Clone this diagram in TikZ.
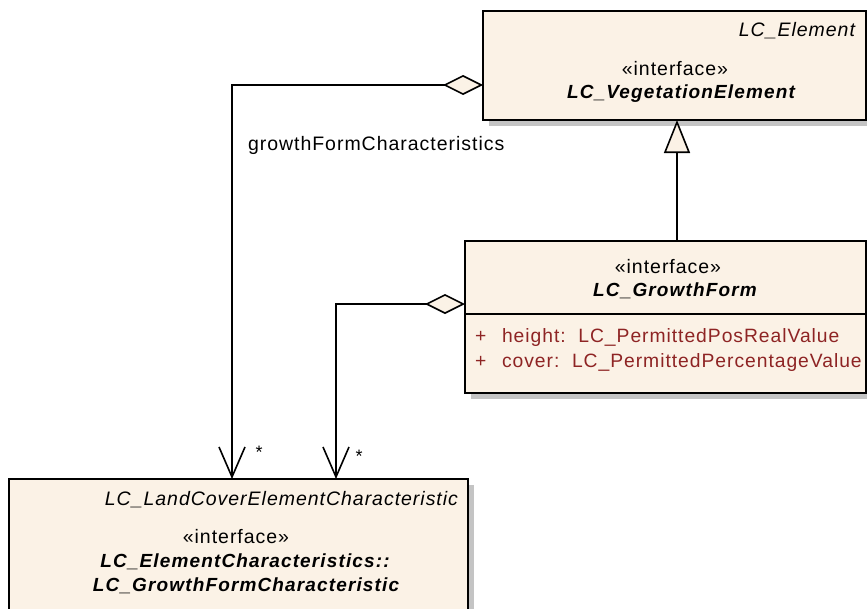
\documentclass[tikz,border=0pt]{standalone}
\usepackage{fontspec}
\setmainfont{Liberation Sans}
\newfontfamily\umlfont[LetterSpace=5]{Liberation Sans}
\newfontfamily\umlbold[LetterSpace=6]{Liberation Sans}
\usetikzlibrary{arrows.meta,backgrounds,calc}
\definecolor{boxfill}{HTML}{FBF2E6}
\definecolor{attrred}{HTML}{8E2424}
\definecolor{shadowgray}{HTML}{C4C4C4}
\begin{document}
\begin{tikzpicture}[x=1pt,y=-1pt,
  umlbox/.style={draw=black, fill=boxfill, line width=1.8pt, inner sep=0pt, outer sep=0pt},
  txt/.style={inner sep=0pt, outer sep=0pt, font=\umlfont\fontsize{19.5}{22}\selectfont},
  btxt/.style={inner sep=0pt, outer sep=0pt, font=\umlbold\fontsize{19}{22}\selectfont\bfseries\itshape},
  attr/.style={txt, text=attrred, font=\umlfont\fontsize{19.3}{22}\selectfont},
  assoc/.style={draw=black, line width=1.6pt, {Diamond[length=40pt,width=20pt,fill=boxfill]}-{Straight Barb[length=30pt,width=26pt]}},
  genline/.style={draw=black, line width=1.6pt, -{Triangle[length=33pt,width=26pt,fill=boxfill]}},
  shadowbox/.style={fill=shadowgray},
  mult/.style={inner sep=0pt, outer sep=0pt, font=\umlfont\fontsize{18}{18}\selectfont}
]
\useasboundingbox (0,0) rectangle (867,608);

% boxes
\node[umlbox, minimum width=383pt, minimum height=109pt] (top) at (674.5,65.5) {};
\node[umlbox, minimum width=401pt, minimum height=152pt] (gf) at (665.5,317) {};
\node[umlbox, minimum width=459pt, minimum height=141pt] (bot) at (238.5,549.5) {};

\begin{scope}[on background layer]
  \fill[shadowbox] ($(top.south west)+(6,6)$) rectangle ($(top.north east)+(6,6)$);
  \fill[shadowbox] ($(gf.south west)+(6,6)$) rectangle ($(gf.north east)+(6,6)$);
  \fill[shadowbox] ($(bot.south west)+(6,6)$) rectangle ($(bot.north east)+(6,6)$);
\end{scope}

\draw[line width=1.6pt] (gf.west |- 0,314) coordinate (sepl) -- (gf.east |- 0,314) coordinate (sepr);

% top box texts
\node[txt, anchor=base east] (topst) at (855,36) {\itshape LC\_Element};
\node[txt, anchor=base] (topster) at (675,75) {«interface»};
\node[btxt, anchor=base] (topname) at (681,98) {LC\_VegetationElement};

% growth form texts
\node[txt, anchor=base] (gfster) at (668,273) {«interface»};
\node[btxt, anchor=base] (gfname) at (675,296) {LC\_GrowthForm};
\node[attr, anchor=base west] (p1) at (475,342) {+};
\node[attr, anchor=base west] (a1) at (502,342) {height:\ \ LC\_PermittedPosRealValue};
\node[attr, anchor=base west] (p2) at (475,367) {+};
\node[attr, anchor=base west] (a2) at (502,367) {cover:\ \ LC\_PermittedPercentageValue};

% bottom texts
\node[txt, anchor=base east] (botst) at (458,505) {\itshape LC\_LandCoverElementCharacteristic};
\node[txt, anchor=base] (botster) at (236,543) {«interface»};
\node[btxt, anchor=base] (botname1) at (245,567) {LC\_ElementCharacteristics::};
\node[btxt, anchor=base] (botname2) at (246,591) {LC\_GrowthFormCharacteristic};

% connectors
\draw[assoc] (top.west |- 0,85) -| (bot.north -| 232,0);
\draw[assoc] (gf.west |- 0,304) -| (bot.north -| 336,0);
\draw[genline] (gf.north -| 677,0) -- (top.south -| 677,0);

% labels
\node[txt, anchor=base west] (role) at (248,150) {growthFormCharacteristics};
\node[mult] (m1) at (259,452) {*};
\node[mult] (m2) at (359,456) {*};
\end{tikzpicture}
\end{document}
